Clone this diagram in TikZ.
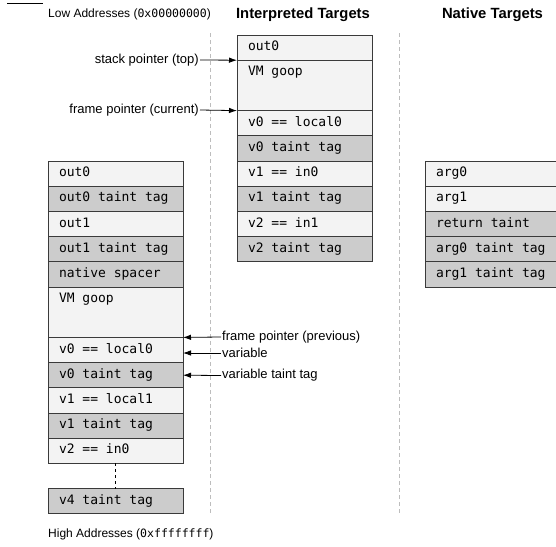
\documentclass[tikz,border=0pt]{standalone}
\usepackage{fontspec}
\setmainfont{Liberation Sans}
\setmonofont{DejaVu Sans Mono}
\usetikzlibrary{positioning,arrows.meta}
\definecolor{cellhi}{HTML}{F3F3F3}
\definecolor{celllo}{HTML}{CCCCCC}
\definecolor{cellline}{HTML}{3A3A3A}
\definecolor{sepline}{HTML}{BDBDBD}
\tikzset{
  cell/.style={draw=cellline,line width=0.9pt,outer sep=0pt,minimum height=25.2pt,
    text width=113pt,inner xsep=11pt,inner ysep=2pt,align=flush left,
    text height=9pt,text depth=3pt,font=\fontsize{13}{15}\selectfont\ttfamily},
  hi/.style={cell,fill=cellhi},
  lo/.style={cell,fill=celllo},
  goop/.style={hi,minimum height=50.4pt,text depth=28.2pt},
  lbl/.style={inner sep=1pt,font=\fontsize{13}{15}\selectfont},
  addr/.style={inner sep=0pt,font=\fontsize{12}{14}\selectfont},
  title/.style={inner sep=0pt,font=\fontsize{14.8}{17}\selectfont\bfseries},
  ptr/.style={-{Latex[length=8pt,width=5.5pt]},line width=0.8pt},
  sep/.style={draw=sepline,line width=0.6pt,dash pattern=on 4pt off 3pt}
}
\newcommand{\hexaddr}[1]{{\ttfamily\fontsize{11.5}{14}\selectfont #1}}
\begin{document}
\begin{tikzpicture}[x=1pt,y=-1pt]
  \useasboundingbox (0,0) rectangle (556,546);
  \clip (0,0) rectangle (556,546);
  \draw[line width=0.8pt] (7,3) -- (43,3);
  % column separators
  \draw[sep] (210,33) -- (210,514);
  \draw[sep] (399,33) -- (399,514);
  % headings
  \node[addr,anchor=west] (low) at (48,14) {Low Addresses (\hexaddr{0x00000000})};
  \node[title] (interp) at (303,15) {Interpreted Targets};
  \node[title] (native) at (492.5,15) {Native Targets};
  \node[addr,anchor=west] (high) at (48,534) {High Addresses (\hexaddr{0xffffffff})};
  % caller frame (left)
  \node[hi,anchor=north west] (lout0) at (48,161) {out0};
  \node[lo,below=0pt of lout0] (lout0t) {out0 taint tag};
  \node[hi,below=0pt of lout0t] (lout1) {out1};
  \node[lo,below=0pt of lout1] (lout1t) {out1 taint tag};
  \node[lo,below=0pt of lout1t] (lspace) {native spacer};
  \node[goop,below=0pt of lspace] (lgoop) {VM goop};
  \node[hi,below=0pt of lgoop] (lv0) {v0 == local0};
  \node[lo,below=0pt of lv0] (lv0t) {v0 taint tag};
  \node[hi,below=0pt of lv0t] (lv1) {v1 == local1};
  \node[lo,below=0pt of lv1] (lv1t) {v1 taint tag};
  \node[hi,below=0pt of lv1t] (lv2) {v2 == in0};
  \node[lo,below=25.2pt of lv2] (lv4t) {v4 taint tag};
  \draw[line width=1.5pt,dash pattern=on 3pt off 3pt] (lv2.south) -- (lv4t.north);
  % interpreted callee frame (middle)
  \node[hi,anchor=north west] (iout0) at (237,35) {out0};
  \node[goop,below=0pt of iout0] (igoop) {VM goop};
  \node[hi,below=0pt of igoop] (iv0) {v0 == local0};
  \node[lo,below=0pt of iv0] (iv0t) {v0 taint tag};
  \node[hi,below=0pt of iv0t] (iv1) {v1 == in0};
  \node[lo,below=0pt of iv1] (iv1t) {v1 taint tag};
  \node[hi,below=0pt of iv1t] (iv2) {v2 == in1};
  \node[lo,below=0pt of iv2] (iv2t) {v2 taint tag};
  % native callee (right)
  \node[hi,anchor=north west] (narg0) at (425,161) {arg0};
  \node[hi,below=0pt of narg0] (narg1) {arg1};
  \node[lo,below=0pt of narg1] (nret) {return taint};
  \node[lo,below=0pt of nret] (narg0t) {arg0 taint tag};
  \node[lo,below=0pt of narg0t] (narg1t) {arg1 taint tag};
  % pointers
  \node[lbl,anchor=east] (sp) at (200,60) {stack pointer (top)};
  \node[lbl,anchor=east] (fpc) at (200,110) {frame pointer (current)};
  \draw[ptr] (sp.east) -- (igoop.north west);
  \draw[ptr] (fpc.east) -- (iv0.north west);
  \node[lbl,anchor=west] (fpp) at (221,337) {frame pointer (previous)};
  \node[lbl,anchor=west] (var) at (221,353) {variable};
  \node[lbl,anchor=west] (vart) at (221,375.5) {variable taint tag};
  \draw[ptr] (fpp.west) -- (lgoop.south east);
  \draw[ptr] (var.west) -- (var.west -| lv0.east);
  \draw[ptr] (vart.west) -- (lv0t.east);
\end{tikzpicture}
\end{document}
